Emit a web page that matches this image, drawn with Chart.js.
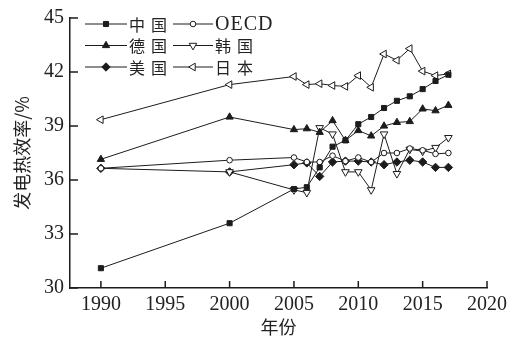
<!DOCTYPE html>
<html>
<head>
<meta charset="utf-8">
<script src="https://cdn.jsdelivr.net/npm/chart.js@4/dist/chart.umd.min.js"></script>
<style>
  html, body { margin: 0; padding: 0; background: #fff; }
  #wrap { width: 518px; height: 343px; }
</style>
</head>
<body>
<div id="wrap"><canvas id="c" width="518" height="343"></canvas></div>
<script>
// Power generation thermal efficiency (%) by country / region
const years = [1990, 2000, 2005, 2006, 2007, 2008, 2009, 2010, 2011, 2012, 2013, 2014, 2015, 2016, 2017];
const xTicks = [1990, 1995, 2000, 2005, 2010, 2015, 2020];
const yTicks = [30, 33, 36, 39, 42, 45];
const seriesNames = ['中国', 'OECD', '德国', '韩国', '美国', '日本'];

const china   = [31.1, 33.6, 35.5, 35.6, 36.7, 37.85, 38.2, 39.1, 39.5, 40.0, 40.4, 40.65, 41.05, 41.5, 41.85];
const oecd    = [36.65, 37.1, 37.25, 37.0, 37.0, 37.35, 37.05, 37.25, 37.0, 37.5, 37.5, 37.75, 37.65, 37.45, 37.5];
const germany = [37.15, 39.5, 38.8, 38.85, 38.65, 39.3, 38.2, 38.75, 38.45, 39.0, 39.2, 39.25, 39.95, 39.85, 40.15];
const korea   = [null, 36.45, 35.45, 35.3, 38.9, 38.55, 36.45, 36.45, 35.45, 38.55, 36.35, 37.7, 37.6, 37.8, 38.35];
const usa     = [36.65, 36.45, 36.85, 36.95, 36.2, 37.0, 37.05, 37.05, 37.0, 36.85, 37.0, 37.1, 37.0, 36.7, 36.7];
const japan   = [39.35, 41.3, 41.75, 41.3, 41.35, 41.25, 41.2, 41.8, 41.15, 43.0, 42.65, 43.3, 42.05, 41.8, 41.9];

const INK = '#1c1c1c';
const serif = "'Liberation Serif', 'Noto Sans CJK SC', serif";

function makeSeries(label, values, style, radius, fill, rotation) {
  return {
    label,
    data: years.map((yr, i) => ({ x: yr, y: values[i] })),
    borderColor: INK,
    borderWidth: 1,
    pointStyle: style,
    pointRadius: radius,
    pointRotation: rotation || 0,
    pointBackgroundColor: fill,
    pointBorderColor: INK,
    pointBorderWidth: 1,
    tension: 0,
    clip: false
  };
}

const datasets = [
  makeSeries(seriesNames[0], china,   'rect',     3.6, INK),
  makeSeries(seriesNames[1], oecd,    'circle',   2.8, '#fff'),
  makeSeries(seriesNames[2], germany, 'triangle', 4.2, INK),
  makeSeries(seriesNames[3], korea,   'triangle', 4.4, '#fff', 180),
  makeSeries(seriesNames[4], usa,     'rectRot',  4.2, INK),
  makeSeries(seriesNames[5], japan,   'triangle', 4.4, '#fff', 270)
];

// Inward-pointing tick marks on both axes
const inwardTicks = {
  id: 'inwardTicks',
  afterDraw(chart) {
    const { ctx, scales: { x, y } } = chart;
    ctx.save();
    ctx.strokeStyle = INK;
    ctx.lineWidth = 1.5;
    ctx.beginPath();
    x.ticks.forEach(t => {
      const px = x.getPixelForValue(t.value);
      ctx.moveTo(px, x.top);
      ctx.lineTo(px, x.top - 7);
    });
    y.ticks.forEach(t => {
      const py = y.getPixelForValue(t.value);
      ctx.moveTo(y.right, py);
      ctx.lineTo(y.right + 8, py);
    });
    ctx.stroke();
    ctx.restore();
  }
};

// Two-column legend inside the plot area
const insideLegend = {
  id: 'insideLegend',
  afterDraw(chart) {
    const ctx = chart.ctx;
    const cols = [{ x0: 85, x1: 127 }, { x0: 173, x1: 213 }];
    const rows = [24, 45.5, 67];
    ctx.save();
    chart.data.datasets.forEach((ds, i) => {
      const c = cols[i % 2];
      const yy = rows[Math.floor(i / 2)];
      ctx.strokeStyle = INK;
      ctx.lineWidth = 1;
      ctx.beginPath();
      ctx.moveTo(c.x0, yy);
      ctx.lineTo(c.x1, yy);
      ctx.stroke();
      ctx.fillStyle = ds.pointBackgroundColor;
      ctx.strokeStyle = INK;
      ctx.lineWidth = 1;
      Chart.helpers.drawPoint(ctx, {
        pointStyle: ds.pointStyle,
        rotation: ds.pointRotation,
        radius: ds.pointRadius,
        borderWidth: 1
      }, (c.x0 + c.x1) / 2, yy);
      ctx.fillStyle = '#222';
      ctx.textBaseline = 'middle';
      ctx.textAlign = 'left';
      if (/^[A-Za-z]+$/.test(ds.label)) {
        ctx.font = "20px " + serif;
        ctx.letterSpacing = '1px';
      } else {
        ctx.font = "16px 'Noto Sans CJK SC', sans-serif";
        ctx.letterSpacing = '6px';
      }
      ctx.fillText(ds.label, c.x1 + 2, yy + 0.5);
    });
    ctx.restore();
  }
};

new Chart(document.getElementById('c'), {
  type: 'line',
  data: { datasets },
  plugins: [inwardTicks, insideLegend],
  options: {
    responsive: false,
    animation: false,
    devicePixelRatio: 1,
    layout: { padding: { top: 12, right: 31, left: 0, bottom: 0 } },
    plugins: { legend: { display: false }, tooltip: { enabled: false } },
    scales: {
      x: {
        type: 'linear',
        min: 1987.6,
        max: 2020,
        afterBuildTicks: s => { s.ticks = xTicks.map(v => ({ value: v })); },
        afterFit: s => { s.height = 55; },
        grid: { drawOnChartArea: false, drawTicks: false },
        border: { display: true, color: INK, width: 1.5 },
        ticks: {
          autoSkip: false, maxRotation: 0, padding: 5, color: '#222',
          font: { family: serif, size: 20 },
          callback: v => String(v)
        },
        title: {
          display: true, text: '年份', color: '#222',
          font: { family: "'Noto Sans CJK SC', sans-serif", size: 18 },
          padding: { top: 0, bottom: 5 }
        }
      },
      y: {
        min: 30,
        max: 45,
        afterBuildTicks: s => { s.ticks = yTicks.map(v => ({ value: v })); },
        afterFit: s => { s.width = 70; },
        grid: { drawOnChartArea: false, drawTicks: false },
        border: { display: true, color: INK, width: 1.5 },
        ticks: {
          padding: 6, color: '#222',
          font: { family: serif, size: 20 },
          callback: v => String(v)
        },
        title: {
          display: true, text: '发电热效率/%', color: '#222',
          font: { family: "'Noto Sans CJK SC', sans-serif", size: 18 },
          padding: { top: 11, bottom: 0 }
        }
      }
    }
  }
});
</script>
</body>
</html>
